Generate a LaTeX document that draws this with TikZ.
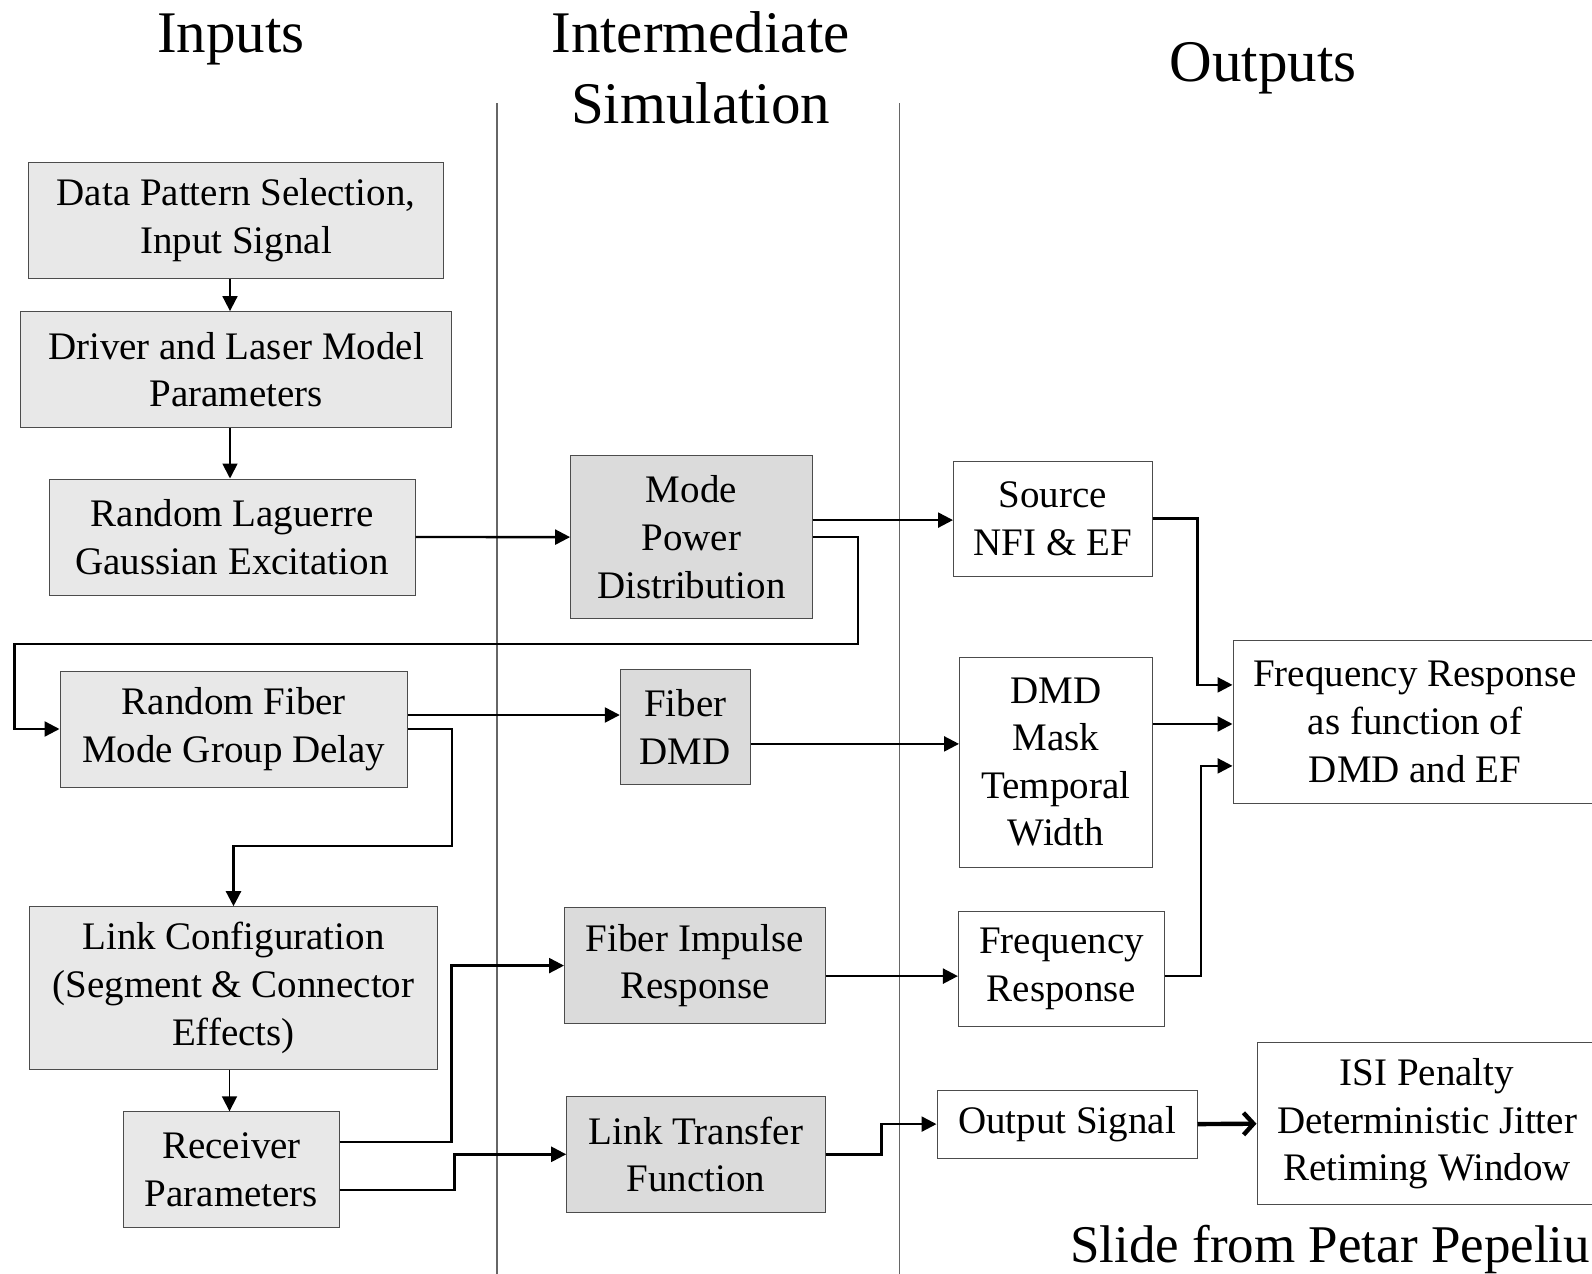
\documentclass[tikz,border=0pt]{standalone}
\usepackage{fontspec}
\setmainfont{Liberation Serif}
\usetikzlibrary{arrows.meta, positioning, calc}

\begin{document}
\begin{tikzpicture}[
    x=0.5pt, y=-0.5pt,
    box/.style       = {rectangle, draw=black!70, line width=0.5pt, align=center,
                        inner sep=2pt, font=\fontsize{19.5}{23.8}\selectfont},
    inbox/.style     = {box, fill=black!9},
    simbox/.style    = {box, fill=black!14},
    outbox/.style    = {box, fill=white},
    header/.style    = {anchor=base, align=center, inner sep=0pt,
                        font=\fontsize{29.5}{35.5}\selectfont},
    credit/.style    = {anchor=base west, inner sep=0pt,
                        font=\fontsize{26.5}{32}\selectfont},
    arrow/.style     = {-{Triangle[length=7.5pt, width=7.5pt]}, line width=1.2pt},
    thinarrow/.style = {arrow, line width=0.9pt},
    bigarrow/.style  = {-{Straight Barb[length=5pt, width=11pt, line width=2.2pt]},
                        line width=2.2pt},
    divider/.style   = {draw=black!60, line width=0.6pt}
]
\useasboundingbox (0,0) rectangle (1592,1274);

% ========= column headers and dividers =========
% (base of a two-line header is its last line)
\node[header] (inputs)  at (231,53)    {Inputs};
\node[header] (simul)   at (700.5,123) {Intermediate\\Simulation};
\node[header] (outputs) at (1263,82)   {Outputs};

\draw[divider] (497,103)   -- (497,1274);
\draw[divider] (899.5,103) -- (899.5,1274);

% ========= inputs =========
\node[inbox, minimum width=207.7pt, minimum height=57.9pt] (data)       at (236,220.3)  {Data Pattern Selection,\\Input Signal};
\node[inbox, minimum width=215.8pt, minimum height=57.9pt] (driver)     at (236,369.5)  {Driver and Laser Model\\Parameters};
\node[inbox, minimum width=183pt,   minimum height=58pt]   (laguerre)   at (232,537)    {Random Laguerre\\Gaussian Excitation};
\node[inbox, minimum width=173.8pt, minimum height=58pt]   (fiberdelay) at (233.8,729)  {Random Fiber\\Mode Group Delay};
\node[inbox, minimum width=204.1pt, minimum height=81.2pt] (linkcfg)    at (233.5,987.9) {Link Configuration\\(Segment \& Connector\\Effects)};
\node[inbox, minimum width=107.6pt, minimum height=57.9pt] (receiver)   at (231.5,1169.7) {Receiver\\Parameters};

% ========= intermediate simulation =========
\node[simbox, minimum width=120.8pt, minimum height=81.2pt] (modepower) at (691.4,537.1) {Mode\\Power\\Distribution};
\node[simbox, minimum width=65pt,    minimum height=57.9pt] (fiberdmd)  at (685.3,726.9) {Fiber\\DMD};
\node[simbox, minimum width=130.3pt, minimum height=57.9pt] (impulse)   at (694.8,965.6) {Fiber Impulse\\Response};
\node[simbox, minimum width=129.2pt, minimum height=57.7pt] (transfer)  at (695.9,1154.3) {Link Transfer\\Function};

% ========= outputs =========
\node[outbox, minimum width=99.3pt,  minimum height=57.5pt] (source)   at (1052.8,518.5) {Source\\NFI \& EF};
\node[outbox, minimum width=96.3pt,  minimum height=105pt]  (dmdmask)  at (1055.8,762)   {DMD\\Mask\\Temporal\\Width};
\node[outbox, minimum width=103.1pt, minimum height=57.4pt] (freqresp) at (1061.5,969.1) {Frequency\\Response};
\node[outbox, minimum width=182pt,   minimum height=81.2pt] (frfn)     at (1415,721.9)   {Frequency Response\\as function of\\DMD and EF};
\node[outbox, minimum width=130pt,   minimum height=33.9pt] (outsig)   at (1067,1124.1)  {Output Signal};
\node[outbox, minimum width=170pt,   minimum height=81.2pt] (isi)      at (1427,1123.7)  {ISI Penalty\\Deterministic Jitter\\Retiming Window};

\node[credit] (slide) at (1070,1262) {Slide from Petar Pepeliu};

% ========= connectors =========
\draw[thinarrow] ([xshift=-3pt]data.south) coordinate (d1) -- (d1 |- driver.north);
\draw[thinarrow] ([xshift=-3pt]driver.south) coordinate (d2) -- (d2 |- laguerre.north);
\draw[arrow] (laguerre.east) -- (modepower.west);

\draw[arrow] ([yshift=8.5pt]modepower.east) coordinate (m1) -- (m1 -| source.west);
\draw[arrow] (modepower.east) -| ++(22.5pt,-53.5pt) -| ([xshift=-22.5pt]fiberdelay.west) -- (fiberdelay.west);

\draw[arrow] ([yshift=7pt]fiberdelay.east) coordinate (f1) -- (f1 -| fiberdmd.west);
\draw[arrow] (fiberdelay.east) -| ++(22pt,-58.5pt) -| (linkcfg.north);
\draw[arrow] ([yshift=-8.5pt]fiberdmd.east) coordinate (f2) -- (f2 -| dmdmask.west);

\draw[thinarrow] ([xshift=-2pt]linkcfg.south) coordinate (l1) -- (l1 |- receiver.north);
\draw[arrow] ([yshift=14pt]receiver.east) -- ++(56pt,0) |- (impulse.west);
\draw[arrow] ([yshift=-10pt]receiver.east) -- ++(57.5pt,0) |- (transfer.west);

\draw[arrow] ([yshift=-5.25pt]impulse.east) coordinate (i1) -- (i1 -| freqresp.west);
\draw[arrow] (transfer.east) -- ++(28pt,0) |- (outsig.west);
\draw[bigarrow] (outsig.east) -- (isi.west);

\draw[arrow] (source.east) -- ++(22.5pt,0) |- ([yshift=18.5pt]frfn.west);
\draw[arrow] ([yshift=19pt]dmdmask.east) coordinate (k1) -- (k1 -| frfn.west);
\draw[arrow] ([yshift=-3.5pt]freqresp.east) -- ++(18pt,0) |- ([yshift=-22pt]frfn.west);
\end{tikzpicture}
\end{document}
